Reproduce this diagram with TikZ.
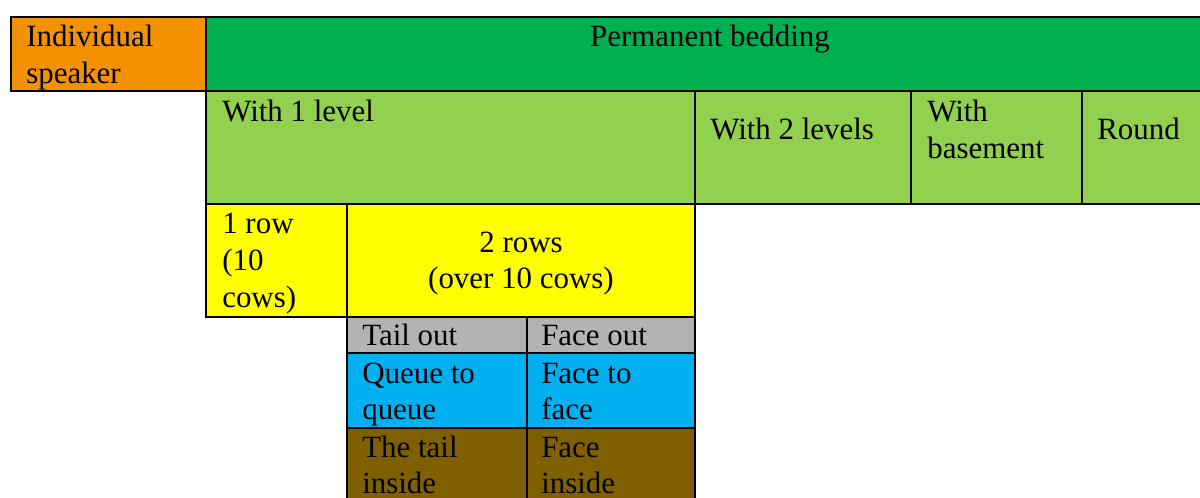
\documentclass[tikz,border=0pt]{standalone}
\usepackage{fontspec}
\setmainfont{Liberation Serif}
\definecolor{cOrange}{HTML}{F39200}
\definecolor{cGreen}{HTML}{00B050}
\definecolor{cLight}{HTML}{92D050}
\definecolor{cYellow}{HTML}{FFFF00}
\definecolor{cGray}{HTML}{B3B3B3}
\definecolor{cBlue}{HTML}{00B0F0}
\definecolor{cBrown}{HTML}{7F6000}
\newcommand{\mycell}[6]{%
  \node[cellbox, fill=#6, minimum width={(#4-#2)*0.025cm}, minimum height={(#5-#3)*0.025cm}] (#1) at (#2,#3) {};}
\begin{document}
\begin{tikzpicture}[x=0.025cm, y=-0.025cm,
  cellbox/.style={draw=black, line width=1.7pt, anchor=north west, inner sep=0pt, outer sep=0pt},
  txt/.style={anchor=base west, inner sep=0pt, font=\fontsize{22}{26.2}\selectfont},
  ctxt/.style={anchor=base, inner sep=0pt, font=\fontsize{22}{26.2}\selectfont}]
\useasboundingbox (0,0) rectangle (1200,498);
\clip (0,0) rectangle (1200,498);
\mycell{orange}{11}{17}{206}{91}{cOrange}
\mycell{perm}{206}{17}{1220}{91}{cGreen}
\mycell{one}{206}{91}{695}{204}{cLight}
\mycell{two}{695}{91}{911}{204}{cLight}
\mycell{base}{911}{91}{1082}{204}{cLight}
\mycell{round}{1082}{91}{1220}{204}{cLight}
\mycell{row1}{206}{204}{347}{317}{cYellow}
\mycell{row2}{347}{204}{695}{317}{cYellow}
\mycell{tailout}{347}{317}{527}{353}{cGray}
\mycell{faceout}{527}{317}{695}{353}{cGray}
\mycell{queue}{347}{353}{527}{428}{cBlue}
\mycell{facetoface}{527}{353}{695}{428}{cBlue}
\mycell{tailin}{347}{428}{527}{520}{cBrown}
\mycell{facein}{527}{428}{695}{520}{cBrown}
\node[txt] (t1) at (26,47) {\begin{tabular}[t]{@{}l@{}}Individual\\speaker\end{tabular}};
\node[ctxt] (t2) at (710,47) {Permanent bedding};
\node[txt] (t3) at (222,122) {With 1 level};
\node[txt] (t4) at (710,140) {With 2 levels};
\node[txt] (t5) at (927,122) {\begin{tabular}[t]{@{}l@{}}With\\basement\end{tabular}};
\node[txt] (t6) at (1097,140) {Round};
\node[txt] (t7) at (222,233.5) {\begin{tabular}[t]{@{}l@{}}1 row\\(10\\cows)\end{tabular}};
\node[ctxt] (t8) at (521,252) {\begin{tabular}[t]{@{}c@{}}2 rows\\(over 10 cows)\end{tabular}};
\node[txt] (t9) at (362,345) {Tail out};
\node[txt] (t10) at (541,345) {Face out};
\node[txt] (t11) at (362,383) {\begin{tabular}[t]{@{}l@{}}Queue to\\queue\end{tabular}};
\node[txt] (t12) at (541,383) {\begin{tabular}[t]{@{}l@{}}Face to\\face\end{tabular}};
\node[txt] (t13) at (362,457) {\begin{tabular}[t]{@{}l@{}}The tail\\inside\end{tabular}};
\node[txt] (t14) at (541,457) {\begin{tabular}[t]{@{}l@{}}Face\\inside\end{tabular}};
\end{tikzpicture}
\end{document}
